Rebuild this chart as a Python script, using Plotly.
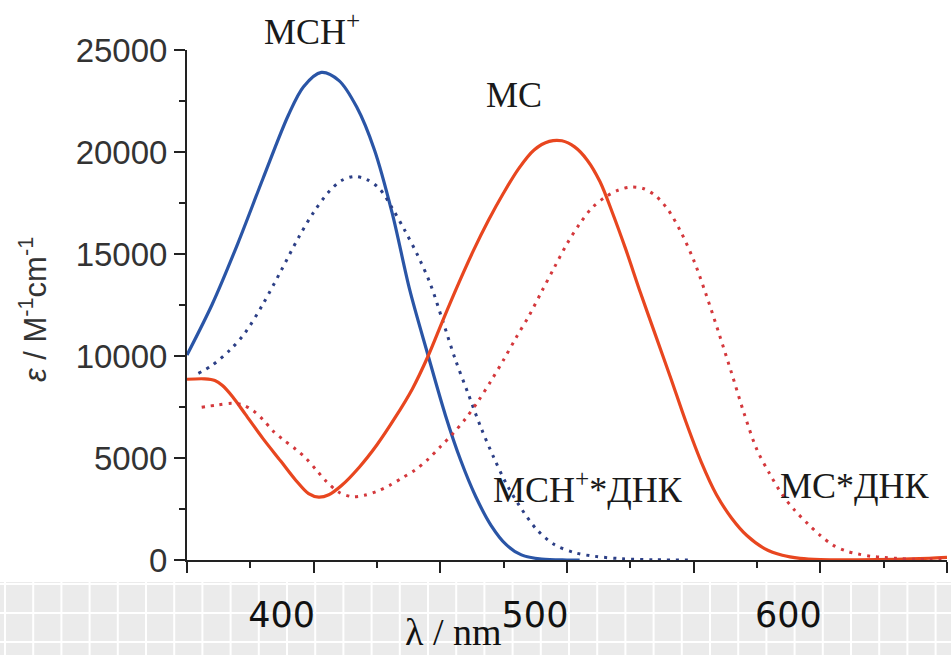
import plotly.graph_objects as go

# ---- data ----
wl_mch = [350, 360, 370, 380, 390, 396, 403, 410, 417, 424, 431, 438, 445, 452, 458, 464,
          470, 476, 482, 490, 500, 505]
eps_mch = [10050, 12550, 15500, 18700, 21800, 23200, 23900, 23500, 22200, 20100, 17000, 13200,
           10100, 7100, 4900, 3100, 1700, 750, 250, 40, 0, 0]

wl_mch_dna = [354.5, 360, 367, 373, 380, 387, 394, 400, 406, 411, 416, 421, 426, 431, 436, 441,
              446, 451, 456, 461, 466, 471, 476, 481, 488, 495, 503, 511, 522, 535, 550]
eps_mch_dna = [9150, 9550, 10300, 11150, 12550, 14150, 15800, 17050, 18050, 18600, 18800, 18650,
               18200, 17250, 16150, 14950, 13550, 11700, 9800, 8150, 6500, 5050, 3750, 2700,
               1500, 760, 360, 180, 60, 10, 0]

wl_mc = [350, 357, 361, 364, 368, 373, 380, 387, 393, 398, 402, 406, 411, 418, 425, 432, 439,
         445, 451, 457, 463, 469, 475, 481, 487, 493, 498, 503, 508, 513, 518, 523, 529, 535,
         541, 547, 553, 559, 565, 571, 578, 585, 592, 600, 615, 630, 643, 650]
eps_mc = [8860, 8880, 8800, 8550, 8000, 7150, 5950, 4850, 3900, 3250, 3080, 3200, 3650, 4550,
          5650, 6950, 8400, 9950, 11750, 13500, 15150, 16650, 18000, 19200, 20100, 20520, 20550,
          20250, 19600, 18550, 17000, 15300, 13100, 11000, 8900, 6750, 4800, 3200, 2050, 1200,
          560, 230, 80, 20, 10, 35, 85, 130]

wl_mc_dna = [355.8, 362, 368, 372, 376, 380, 384, 388, 393, 397, 401, 405, 410, 415, 420, 425,
             430, 435, 440, 445, 450, 455, 460, 465, 470, 475, 480, 485, 490, 495, 500, 505,
             510, 515, 520, 525, 530, 535, 540, 545, 550, 555, 560, 565, 570, 575, 580, 585,
             590, 595, 600, 605, 610, 615, 620, 625, 630, 637, 643, 650]
eps_mc_dna = [7490, 7600, 7680, 7600, 7330, 6880, 6320, 5900, 5420, 4980, 4420, 3850, 3320,
              3110, 3170, 3370, 3660, 4030, 4410, 4920, 5550, 6200, 6930, 7800, 8780, 9820,
              10920, 11970, 13160, 14340, 15500, 16480, 17280, 17780, 18120, 18280, 18210,
              17850, 17150, 16070, 14700, 12980, 11100, 9150, 7150, 5400, 4230, 3200, 2420,
              1780, 1200, 730, 450, 290, 180, 130, 80, 35, 35, 85]

x_tick_vals = [350, 400, 450, 500, 550, 600, 650]
x_tick_text = ["", "400", "", "500", "", "600", ""]
y_tick_vals = [0, 5000, 10000, 15000, 20000, 25000]
y_tick_text = ["0", "5000", "10000", "15000", "20000", "25000"]

labels = ["МСН<sup>+</sup>", "МС", "МСН<sup>+</sup>*ДНК", "МС*ДНК"]
label_px = [312, 514, 588, 855]      # label centres, page pixels
label_py = [30, 95, 487, 486]

# ---- figure ----
fig = go.Figure()

W, H = 951, 655
L, R, T, B = 187, 4, 50, 95
pw, ph = W - L - R, H - T - B

def px(xp):
    return (xp - L) / pw

def py(yp):
    return (H - B - yp) / ph

# decorative grey band under the axis
shapes = [dict(type="rect", xref="paper", yref="paper", x0=px(0), x1=px(W),
               y0=py(H), y1=py(582), fillcolor="#ebebeb", line=dict(width=0), layer="below")]
xv = 5.0
while xv < W:
    shapes.append(dict(type="line", xref="paper", yref="paper", x0=px(xv), x1=px(xv),
                       y0=py(H), y1=py(582), line=dict(color="white", width=2), layer="below"))
    xv += 28.2
for yv in [584, 613, 642]:
    shapes.append(dict(type="line", xref="paper", yref="paper", x0=px(0), x1=px(W),
                       y0=py(yv), y1=py(yv), line=dict(color="white", width=2), layer="below"))

fig.add_trace(go.Scatter(x=wl_mch, y=eps_mch, mode="lines",
                         line=dict(color="#2a55a6", width=3.2, shape="spline", smoothing=0.9)))
fig.add_trace(go.Scatter(x=wl_mch_dna, y=eps_mch_dna, mode="lines",
                         line=dict(color="#2c3f86", width=3, dash="3px,6px", shape="spline", smoothing=0.9)))
fig.add_trace(go.Scatter(x=wl_mc, y=eps_mc, mode="lines",
                         line=dict(color="#e8461f", width=3.2, shape="spline", smoothing=0.9)))
fig.add_trace(go.Scatter(x=wl_mc_dna, y=eps_mc_dna, mode="lines",
                         line=dict(color="#d4383c", width=3, dash="3px,6px", shape="spline", smoothing=0.9)))

annotations = []
for t, x, y in zip(labels, label_px, label_py):
    annotations.append(dict(text=t, x=px(x), y=py(y), xref="paper", yref="paper", showarrow=False,
                            xanchor="center", yanchor="middle",
                            font=dict(family="Liberation Serif", size=36, color="#1a1a1a")))
annotations.append(dict(text="<i>ε</i> / M<sup>-1</sup>cm<sup>-1</sup>", xref="paper", yref="paper",
                        x=px(33), y=py(310), xanchor="center", yanchor="middle",
                        textangle=-90, showarrow=False,
                        font=dict(family="Liberation Sans", size=31, color="#333333")))
annotations.append(dict(text="λ / nm", xref="paper", yref="paper", x=px(453), y=py(632),
                        xanchor="center", yanchor="middle", showarrow=False,
                        font=dict(family="Liberation Serif", size=38, color="#111111")))

fig.update_layout(width=W, height=H, margin=dict(l=L, r=R, t=T, b=B),
                  plot_bgcolor="white", paper_bgcolor="white", showlegend=False,
                  shapes=shapes, annotations=annotations)

fig.update_xaxes(range=[350, 650], showline=True, linecolor="#222", linewidth=2,
                 ticks="outside", ticklen=11, tickwidth=2, tickcolor="#222",
                 tickmode="array", tickvals=x_tick_vals, ticktext=x_tick_text,
                 showgrid=False, zeroline=False,
                 minor=dict(ticks="outside", ticklen=6, tickwidth=2, tickcolor="#222",
                            tick0=350, dtick=25, showgrid=False),
                 tickfont=dict(family="DejaVu Sans", size=35, color="#111"),
                 ticklabelshift=-32, ticklabelstandoff=12)

fig.update_yaxes(range=[0, 25000], showline=True, linecolor="#222", linewidth=2,
                 ticks="outside", ticklen=11, tickwidth=2, tickcolor="#222",
                 tickmode="array", tickvals=y_tick_vals, ticktext=y_tick_text,
                 showgrid=False, zeroline=False,
                 minor=dict(ticks="outside", ticklen=6, tickwidth=2, tickcolor="#222",
                            tick0=0, dtick=2500, showgrid=False),
                 tickfont=dict(family="Liberation Sans", size=33, color="#333"))

fig.write_html("out.html", config={"displayModeBar": False},
               post_script="document.body.style.margin='0px';")
